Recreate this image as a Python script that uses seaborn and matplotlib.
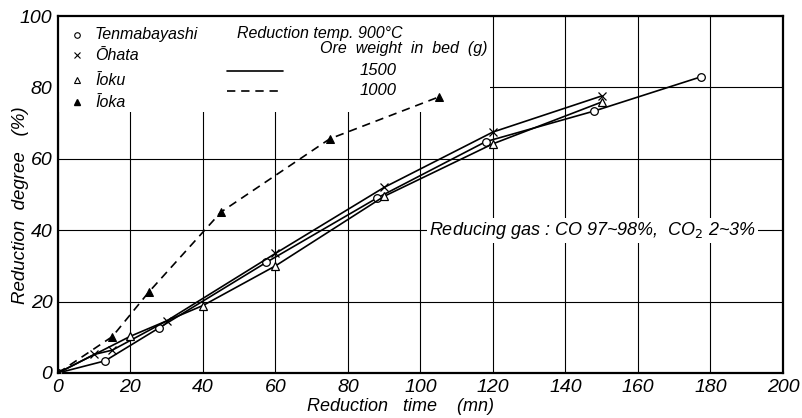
import matplotlib
matplotlib.use("Agg")
import matplotlib.pyplot as plt
import seaborn as sns
import numpy as np
from matplotlib.patches import Rectangle

sns.set_theme(style="white")
plt.rcParams['font.family'] = ['Liberation Sans', 'DejaVu Sans']
plt.rcParams['text.color'] = 'black'
plt.rcParams['axes.labelcolor'] = 'black'
plt.rcParams['xtick.color'] = 'black'
plt.rcParams['ytick.color'] = 'black'

# Data (time in min, reduction degree in %)
tenma_t = [0, 13, 28, 57.5, 88, 118, 148, 177.5]
tenma_r = [0, 3.4, 12.7, 31, 49, 64.8, 73.4, 83]
ohata_t = [0, 10, 15, 30, 60, 90, 120, 150]
ohata_r = [0, 5.2, 6.4, 14.6, 33.5, 52, 67.5, 77.6]
ioku_t = [0, 20, 40, 60, 90, 120, 150]
ioku_r = [0, 10.3, 18.9, 30, 49.5, 64.2, 75.9]
ioka_t = [0, 15, 25, 45, 75, 105]
ioka_r = [0, 10.2, 22.6, 45.1, 65.6, 77.3]

x_ticks = [0, 20, 40, 60, 80, 100, 120, 140, 160, 180, 200]
y_ticks = [0, 20, 40, 60, 80, 100]

fig = plt.figure(figsize=(8.03, 4.18), dpi=100)
ax = fig.add_axes([0.0722, 0.1077, 0.9028, 0.854])

FONT = dict(style='italic', family=['Liberation Sans', 'DejaVu Sans'], color='black')
lw = 1.2
FS = 11.5

sns.lineplot(x=tenma_t, y=tenma_r, ax=ax, color='black', lw=lw, marker='o',
             markersize=5.5, markerfacecolor='white', markeredgecolor='black',
             markeredgewidth=0.9, sort=False, zorder=5)
sns.lineplot(x=ohata_t, y=ohata_r, ax=ax, color='black', lw=lw, marker='x',
             markersize=5.5, markeredgecolor='black', markeredgewidth=0.9,
             sort=False, zorder=5)
sns.lineplot(x=ioku_t, y=ioku_r, ax=ax, color='black', lw=lw, marker='^',
             markersize=5.5, markerfacecolor='white', markeredgecolor='black',
             markeredgewidth=0.9, sort=False, zorder=5)
sns.lineplot(x=ioka_t, y=ioka_r, ax=ax, color='black', lw=lw, marker='^',
             markersize=5.5, markerfacecolor='black', markeredgecolor='black',
             linestyle=(0, (5, 3.5)), sort=False, zorder=5)

ax.set_xlim(0, 200)
ax.set_ylim(0, 100)
ax.set_xticks(x_ticks)
ax.set_yticks(y_ticks)
ax.set_xticklabels([str(v) for v in x_ticks], fontsize=14, **FONT)
ax.set_yticklabels([str(v) for v in y_ticks], fontsize=14, **FONT)
ax.tick_params(axis='both', length=0, pad=4)

ax.grid(True, color='black', lw=0.8, zorder=0)
ax.set_axisbelow(True)
for s in ax.spines.values():
    s.set_color('black')
    s.set_linewidth(1.6)

# blank area for the legend block (grid hidden there)
ax.add_patch(Rectangle((0.3, 73), 118.9, 26.7, facecolor='white',
                       edgecolor='none', zorder=1))

# legend block
leg_x_m = 5.2
leg_x_t = 10.2
ax.plot([leg_x_m], [94.8], marker='o', ms=4, mfc='white', mec='black', mew=0.8, zorder=6)
ax.plot([leg_x_m], [89.0], marker='x', ms=4, mec='black', mew=0.8, zorder=6)
ax.plot([leg_x_m], [82.0], marker='^', ms=4, mfc='white', mec='black', mew=0.8, zorder=6)
ax.plot([leg_x_m], [75.8], marker='^', ms=4, mfc='black', mec='black', zorder=6)
ax.text(leg_x_t, 94.8, 'Tenmabayashi', fontsize=FS, va='center', **FONT)
ax.text(leg_x_t, 89.0, 'Ōhata', fontsize=FS, va='center', **FONT)
ax.text(leg_x_t, 82.0, 'Īoku', fontsize=FS, va='center', **FONT)
ax.text(leg_x_t, 75.8, 'Īoka', fontsize=FS, va='center', **FONT)

ax.text(49.4, 95.2, 'Reduction temp. 900°C', fontsize=FS, va='center', **FONT)
ax.text(118.5, 90.8, 'Ore  weight  in  bed  (g)', fontsize=FS, va='center', ha='right', **FONT)
ax.plot([46.5, 62], [84.6, 84.6], color='black', lw=lw, zorder=6)
ax.plot([46.5, 62], [79.0, 79.0], color='black', lw=lw, linestyle=(0, (5, 3.5)), zorder=6)
ax.text(93.5, 84.8, '1500', fontsize=12, va='center', ha='right', **FONT)
ax.text(93.5, 79.0, '1000', fontsize=12, va='center', ha='right', **FONT)

ax.text(147.5, 40, 'Reducing gas : CO 97~98%,  CO$_2$ 2~3%', fontsize=13,
        va='center', ha='center', zorder=4,
        bbox=dict(facecolor='white', edgecolor='none', pad=1.5), **FONT)

ax.set_xlabel('Reduction   time    (mn)', fontsize=13, **FONT)
ax.xaxis.set_label_coords(0.472, -0.07)
ax.set_ylabel('Reduction  degree   (%)', fontsize=13.5, **FONT)
ax.yaxis.set_label_coords(-0.04, 0.47)

fig.savefig('out.png', dpi=100)
